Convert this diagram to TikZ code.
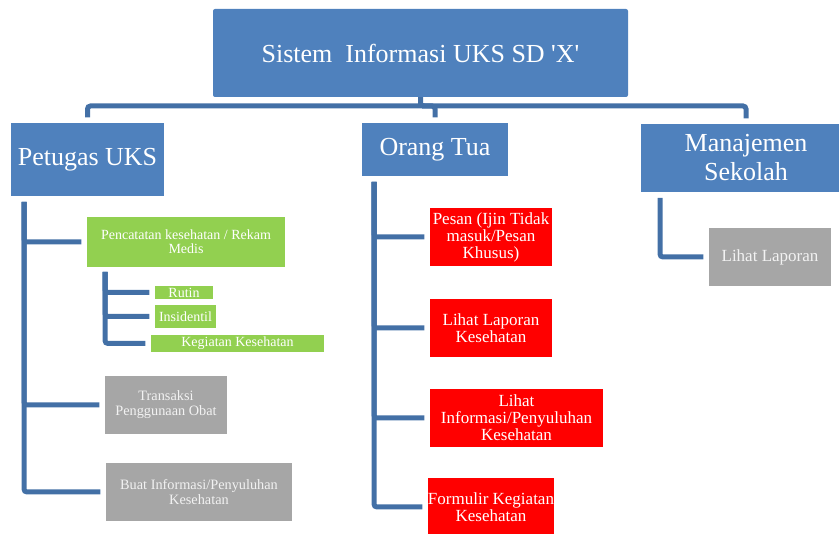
\documentclass[tikz,border=0pt]{standalone}
\usepackage{fontspec}
\setmainfont{Liberation Serif}[Ligatures=TeXOff]
\usetikzlibrary{positioning}
\tikzstyle{chart} = [x = 1pt, y = -1pt]
\definecolor{headColor}{RGB}{79,129,189}
\definecolor{lineColor}{RGB}{67,112,166}
\definecolor{greenColor}{RGB}{146,208,80}
\definecolor{redColor}{RGB}{255,0,0}
\definecolor{grayColor}{RGB}{166,166,166}
\definecolor{grayText}{RGB}{242,242,242}
\tikzstyle{box} = [draw=none, text=white, align=center, inner sep=0pt]
\tikzstyle{headBox} = [box, fill=headColor, font=\fontsize{26}{29}\selectfont]
\tikzstyle{greenBox} = [box, fill=greenColor, font=\fontsize{14}{14}\selectfont]
\tikzstyle{redBox} = [box, fill=redColor, font=\fontsize{17}{17}\selectfont]
\tikzstyle{grayBox} = [box, fill=grayColor, text=grayText, font=\fontsize{14.3}{15}\selectfont]
\tikzstyle{link} = [color=lineColor, line width=5pt, rounded corners=3pt]
\tikzstyle{branch} = [link, shorten >=5.5pt]
\newcommand{\menuBox}[7]{\node [#1, minimum width=#5pt, minimum height=#6pt] (#2) at (#3,#4) {#7};}

\begin{document}
\begin{tikzpicture}[chart]
      \useasboundingbox (0,0) rectangle (839,534);
      \clip (0,0) rectangle (839,534);

      \menuBox{headBox, rounded corners=2pt}{sistem}{420.5}{53}{415}{88}{Sistem\ \ Informasi UKS SD 'X'}
      \menuBox{headBox}{petugas}{87.5}{159.5}{153}{73}{Petugas UKS}
      \menuBox{headBox}{orangTua}{435}{149.5}{146}{53}{Orang Tua}
      \menuBox{headBox}{manajemen}{746}{158}{210}{68}{Manajemen\\Sekolah}

      \menuBox{greenBox}{pencatatan}{186}{242}{198}{50}{Pencatatan kesehatan / Rekam\\Medis}
      \menuBox{greenBox}{rutin}{184}{292.5}{58}{13}{Rutin}
      \menuBox{greenBox}{insidentil}{185.5}{316.5}{61}{23}{Insidentil}
      \menuBox{greenBox}{kegiatan}{237.5}{343.5}{173}{17}{Kegiatan Kesehatan}
      \menuBox{grayBox}{transaksi}{166}{405}{122}{58}{Transaksi\\Penggunaan Obat}
      \menuBox{grayBox}{buatInfo}{199}{492}{186}{58}{Buat Informasi/Penyuluhan\\Kesehatan}

      \menuBox{redBox}{pesan}{491}{237}{122}{58}{Pesan (Ijin Tidak\\masuk/Pesan\\Khusus)}
      \menuBox{redBox}{lihatLaporanKes}{491}{328}{122}{58}{Lihat Laporan\\Kesehatan}
      \menuBox{redBox}{lihatInfo}{516.5}{418}{173}{58}{Lihat\\Informasi/Penyuluhan\\Kesehatan}
      \menuBox{redBox}{formulir}{491}{507}{122}{58}{Formulir Kegiatan\\Kesehatan}

      \menuBox{grayBox, font=\fontsize{17}{17}\selectfont}{lihatLaporan}{770}{257}{122}{58}{Lihat Laporan}

      \coordinate (hub) at (422,106);
      \coordinate (petugasTrunk) at (24,202);
      \coordinate (catatTrunk) at (105,272);
      \coordinate (orangTrunk) at (374,182);
      \coordinate (manajemenTrunk) at (660,198);

      \draw [link] (sistem.south) |- (hub);
      \draw [branch] (hub) -| (petugas.north);
      \draw [branch] (hub) -| (orangTua.north);
      \draw [branch] (hub) -| (manajemen.north);

      \draw [branch] (petugasTrunk) |- (pencatatan.west);
      \draw [branch] (petugasTrunk) |- (transaksi.west);
      \draw [branch] (petugasTrunk) |- (buatInfo.west);

      \draw [branch] (catatTrunk) |- (rutin.west);
      \draw [branch] (catatTrunk) |- (insidentil.west);
      \draw [branch] (catatTrunk) |- (kegiatan.west);

      \draw [branch] (orangTrunk) |- (pesan.west);
      \draw [branch] (orangTrunk) |- (lihatLaporanKes.west);
      \draw [branch] (orangTrunk) |- (lihatInfo.west);
      \draw [branch] (orangTrunk) |- (formulir.west);

      \draw [branch] (manajemenTrunk) |- (lihatLaporan.west);
    \end{tikzpicture}
\end{document}
